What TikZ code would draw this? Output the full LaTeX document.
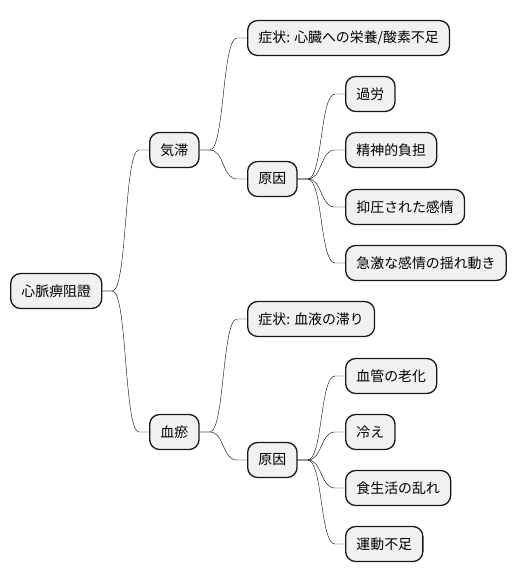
\documentclass[tikz,border=0pt]{standalone}
\usepackage{fontspec}
\newfontfamily\jpfont{Noto Sans CJK JP}
\usepackage{xcolor}
\usepackage{tikz}
\usetikzlibrary{calc}
\definecolor{boxfill}{HTML}{F1F1F1}
\definecolor{boxline}{HTML}{181818}
\tikzset{
  topic/.style={draw=boxline,fill=boxfill,line width=1.3pt,rounded corners=10pt,anchor=west,
    minimum height=35pt,inner xsep=10.8pt,inner ysep=0pt,text=black,font=\jpfont\fontsize{13.9}{16}\selectfont},
  branch/.style={draw=boxline,line width=0.9pt,
    to path={-- ++(10,0) .. controls +(15,0) and +(-15,0) .. ($(\tikztotarget)+(-10,0)$) -- (\tikztotarget)}}
}

\begin{document}
\begin{tikzpicture}[x=1pt,y=-1pt]
\useasboundingbox (0,0) rectangle (516,583);
\node[topic](root) at (10,291){心脈痹阻證};
\node[topic](qi) at (149,150){気滞};\node[topic](bl) at (149,432){血瘀};
\node[topic](qsym) at (247,38){症状: 心臓への栄養/酸素不足};
\node[topic](qcause) at (247,179){原因};
\node[topic](q1) at (345,94){過労};
\node[topic](q2) at (345,150){精神的負担};
\node[topic](q3) at (345,207){抑圧された感情};
\node[topic](q4) at (345,263){急激な感情の揺れ動き};
\node[topic](bsym) at (247,319){症状: 血液の滞り};
\node[topic](bcause) at (247,460){原因};
\node[topic](b1) at (345,376){血管の老化};
\node[topic](b2) at (345,432){冷え};
\node[topic](b3) at (345,488){食生活の乱れ};
\node[topic](b4) at (345,544){運動不足};

\draw(root.east) to[branch] (qi.west);\draw(root.east) to[branch] (bl.west);
\draw(qi.east) to[branch] (qsym.west);\draw(qi.east) to[branch] (qcause.west);
\draw(bl.east) to[branch] (bsym.west);\draw(bl.east) to[branch] (bcause.west);
\foreach \c in {q1,q2,q3,q4}{\draw(qcause.east) to[branch] (\c.west);}
\foreach \c in {b1,b2,b3,b4}{\draw(bcause.east) to[branch] (\c.west);}
\end{tikzpicture}
\end{document}
